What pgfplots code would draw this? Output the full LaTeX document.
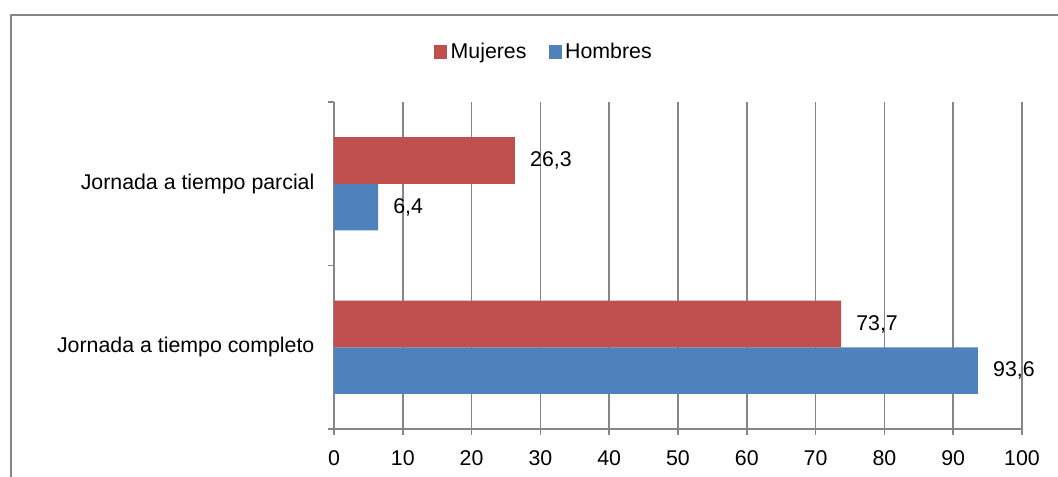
\documentclass[border=0pt]{standalone}
\usepackage{fontspec}
\setmainfont{Liberation Sans}
\usepackage{pgfplots}
\pgfplotsset{compat=1.18}
\definecolor{cred}{HTML}{C0504D}
\definecolor{cblue}{HTML}{4F81BD}
\definecolor{cgrid}{HTML}{868686}
\newcommand{\ff}{\fontsize{16}{19}\selectfont}
\begin{document}
\begin{tikzpicture}
\useasboundingbox (0,0) rectangle (793.5pt,357pt);
\draw[cgrid, line width=1.5pt] (8.25pt,-20pt) rectangle (820pt,345.75pt);
\begin{axis}[
  at={(250.5pt,35.25pt)}, anchor=south west,
  scale only axis, width=516pt, height=245.25pt,
  xbar=0pt, bar width=35pt,
  xmin=0, xmax=100, ymin=-0.5, ymax=1.5,
  axis lines*=left,
  axis line style={cgrid, line width=1.2pt},
  xtick={0,10,...,100},
  xmajorgrids, grid style={cgrid, line width=1.2pt},
  tick align=outside,
  major tick length=4.5pt,
  xtick style={cgrid, line width=1.2pt},
  ytick={-0.5,0.5,1.5}, yticklabels={},
  ytick style={cgrid, line width=1.2pt},
  extra y ticks={0,1},
  extra y tick labels={Jornada a tiempo completo,Jornada a tiempo parcial},
  extra y tick style={major tick length=0pt, yticklabel style={inner sep=0pt, anchor=east, xshift=-14.5pt}},
  every tick label/.append style={font=\ff},
  /pgf/number format/assume math mode=true,
  xticklabel style={inner sep=0pt, anchor=north, yshift=-11.5pt},
  nodes near coords,
  nodes near coords style={font=\ff, inner sep=0pt, anchor=west, xshift=11.25pt,
    /pgf/number format/.cd, fixed, fixed zerofill, precision=1, use comma, assume math mode=true},
  legend style={draw=none, fill=none, at={(0.306,1.153)}, anchor=center,
    legend columns=2, font=\ff,
    /tikz/every even column/.append style={column sep=14pt},
    nodes={inner sep=2.5pt}},
  reverse legend,
  legend image code/.code={\fill[#1] (0pt,-5pt) rectangle (10pt,5pt);},
]
\addplot[fill=cblue, draw=none] coordinates {(93.6,0) (6.4,1)};
\addlegendentry{Hombres}
\addplot[fill=cred, draw=none] coordinates {(73.7,0) (26.3,1)};
\addlegendentry{Mujeres}
\end{axis}
\end{tikzpicture}
\end{document}
